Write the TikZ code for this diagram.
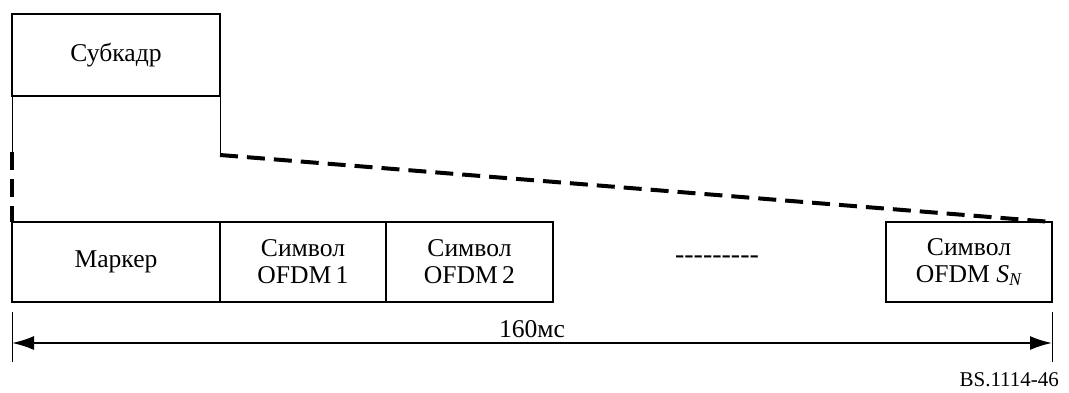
\documentclass[tikz,border=0pt]{standalone}
\usepackage{fontspec}
\setmainfont{Liberation Serif}
\usepackage{tikz}
\usetikzlibrary{positioning,calc,arrows.meta}

\begin{document}
\begin{tikzpicture}[
    x=0.5pt, y=-0.5pt,
    field/.style={rectangle, draw, line width=1pt, minimum width=83pt, minimum height=40pt, inner sep=0pt, outer sep=0pt, align=center, font=\fontsize{12.8}{13.5}\selectfont},
    thinline/.style={line width=0.5pt},
    zoomline/.style={line width=2pt, dash pattern=on 9pt off 4.5pt},
    span/.style={{Latex[length=11pt,width=7pt]}-{Latex[length=11pt,width=7pt]}, line width=1pt}
]
\useasboundingbox (0,0) rectangle (1069,392);

% Subframe
\node[field, minimum width=104pt, minimum height=41pt] (sub) at (116,55) {Субкадр};

% Frame fields
\node[field, minimum width=104pt] (mark) at (116,262) {Маркер};
\node[field] (ofdm1) at (303,262) {Символ\\OFDM\,1};
\node[field, minimum width=83.5pt] (ofdm2) at (469.5,262) {Символ\\OFDM\,2};
\node[font=\fontsize{14}{14}\selectfont] (dots) at (717,260) {{-}{-}{-}{-}{-}{-}{-}{-}{-}};
\node[field] (ofdmn) at (969,262) {Символ\\OFDM \textit{S\textsubscript{N}}};

% Zoom lines
\coordinate (subl) at (12,152);
\coordinate (subr) at (220,155);
\draw[thinline] (sub.south west) -- (subl);
\draw[thinline] (sub.south east) -- (subr);
\draw[zoomline] (subl) -- (mark.north west);
\draw[zoomline] (subr) -- (ofdmn.north east);

% Duration
\coordinate (tl) at (12,312);
\coordinate (tlb) at (12,362);
\coordinate (tr) at (1052,312);
\coordinate (trb) at (1052,362);
\draw[thinline] (tl) -- (tlb);
\draw[thinline] (tr) -- (trb);
\draw[span] ($(tl)!0.62!(tlb)$) -- node[above=-1pt, font=\fontsize{12.8}{13.5}\selectfont] (dur) {160мс} ($(tr)!0.62!(trb)$);

\node[font=\fontsize{10.5}{12}\selectfont, anchor=east] (ref) at (1066,380) {BS.1114-46};
\end{tikzpicture}
\end{document}
